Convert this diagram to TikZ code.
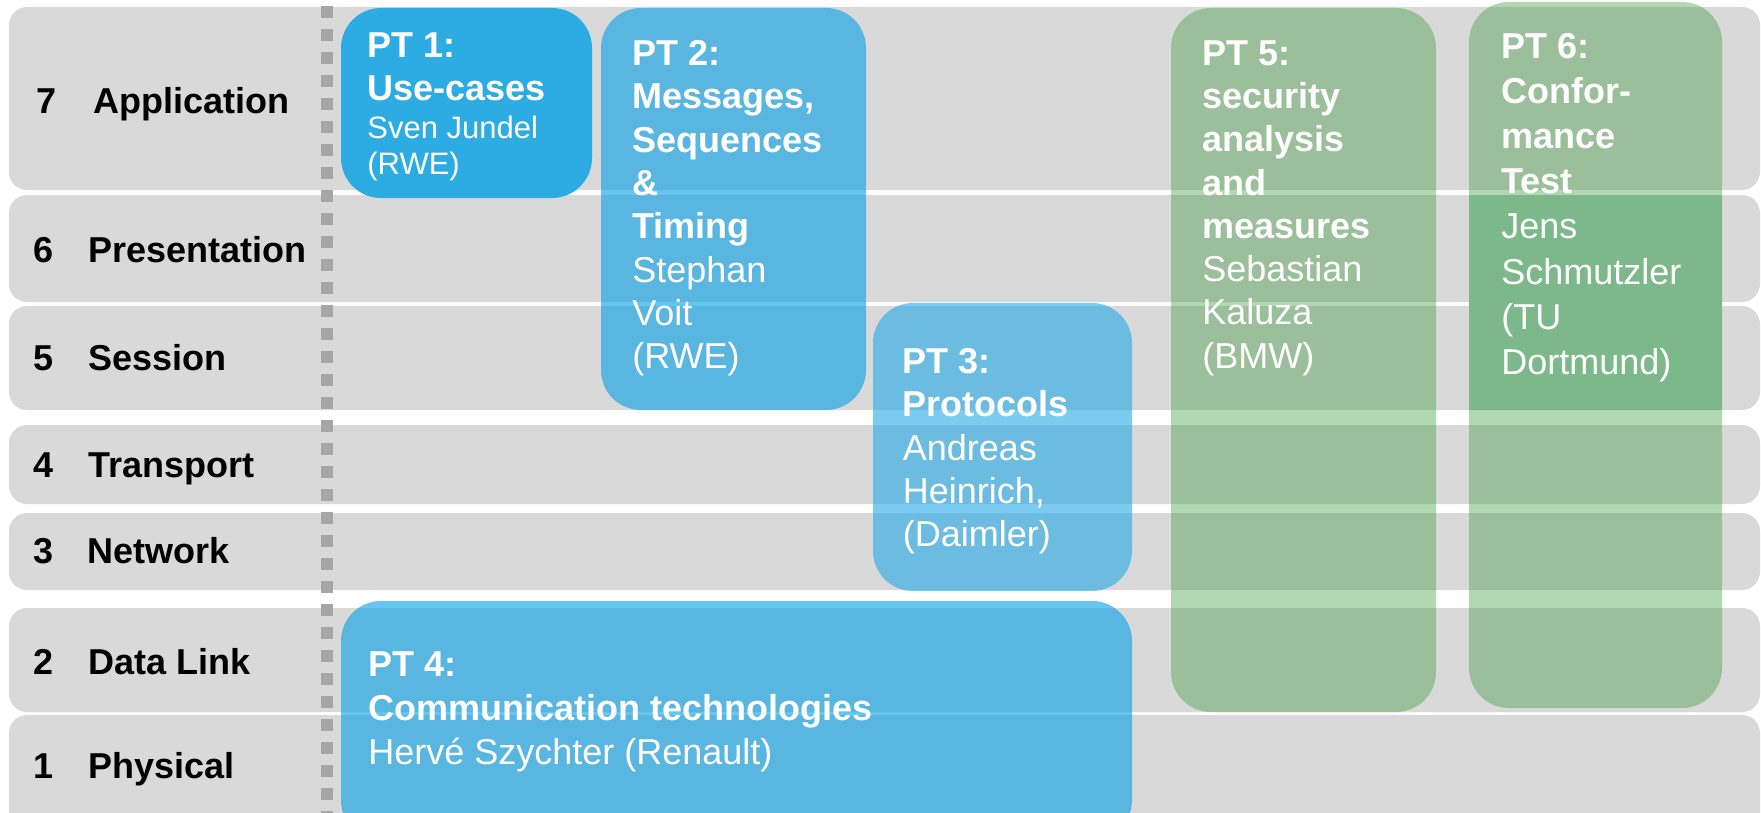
\documentclass[tikz,border=0pt]{standalone}
\usepackage{fontspec}
\setmainfont{Liberation Sans}
\definecolor{band}{HTML}{D9D9D9}
\definecolor{dots}{HTML}{A6A6A6}
\definecolor{ptone}{RGB}{44,172,226}
\definecolor{pttwo}{RGB}{2,160,229}
\definecolor{ptthree}{RGB}{35,170,230}
\definecolor{ptgreen}{RGB}{47,149,47}
\definecolor{ptdark}{HTML}{7DB88A}
\begin{document}
\begin{tikzpicture}[x=0.5pt,y=-0.5pt,
  bandbox/.style={fill=band, rounded corners=9pt},
  boxshape/.style={rounded corners=20pt},
  layernum/.style={anchor=base west, inner sep=0pt, text=black, font=\fontsize{18}{21.6}\selectfont\bfseries},
  boxtext/.style={anchor=north west, inner sep=0pt, align=left, text=white},
  bigfont/.style={font=\fontsize{18}{21.65}\selectfont},
  smallfont/.style={font=\fontsize{15.5}{18.3}\selectfont}
]
\useasboundingbox (0,0) rectangle (1761,813);
\clip (0,0) rectangle (1761,813);
% layer bands
\fill[bandbox] (9,7) rectangle (1760,190);
\fill[bandbox] (9,195) rectangle (1760,302);
\fill[bandbox] (9,306) rectangle (1760,410);
\fill[bandbox] (9,425) rectangle (1760,504);
\fill[bandbox] (9,513) rectangle (1760,590);
\fill[bandbox] (9,608) rectangle (1760,712);
\fill[bandbox] (9,715) rectangle (1760,840);
% dotted separator
\draw[dots, line width=6pt, dash pattern=on 6pt off 5.5pt] (327,6) -- (327,813);
% layer labels
\node[layernum] (n7) at (36,113) {7};
\node[layernum] (l7) at (93,113) {Application};
\node[layernum] (n6) at (33,262) {6};
\node[layernum] (l6) at (88,262) {Presentation};
\node[layernum] (n5) at (33,370) {5};
\node[layernum] (l5) at (88,370) {Session};
\node[layernum] (n4) at (33,477) {4};
\node[layernum] (l4) at (88,477) {Transport};
\node[layernum] (n3) at (33,563) {3};
\node[layernum] (l3) at (87,563) {Network};
\node[layernum] (n2) at (33,674) {2};
\node[layernum] (l2) at (88,674) {Data Link};
\node[layernum] (n1) at (33,778) {1};
\node[layernum] (l1) at (88,778) {Physical};
% PT boxes
\fill[boxshape, ptone] (341,8) rectangle (592,198);
\fill[boxshape, pttwo, fill opacity=0.6] (601,8) rectangle (866,410);
\fill[boxshape, ptthree, fill opacity=0.6] (873,303) rectangle (1132,591);
\fill[boxshape, pttwo, fill opacity=0.6] (341,601) rectangle (1132,840);
\fill[boxshape, ptgreen, fill opacity=0.37] (1171,8) rectangle (1436,712);
\fill[boxshape, ptgreen, fill opacity=0.37] (1469,2) rectangle (1722,708);
\fill[ptdark] (1469,195) rectangle (1722,410);
% texts
\node[boxtext, bigfont] (t1) at (367,32) {\textbf{PT 1:}\\\textbf{Use-cases}};
\node[boxtext, smallfont] (s1) at (367,115.5) {Sven Jundel\\(RWE)};
\node[boxtext, bigfont] (t2) at (632,40) {\textbf{PT 2:}\\\textbf{Messages,}\\\textbf{Sequences}\\\textbf{\&}\\\textbf{Timing}\\Stephan\\Voit\\(RWE)};
\node[boxtext, bigfont] (t3) at (902.5,348) {\textbf{PT 3:}\\\textbf{Protocols}\\Andreas\\Heinrich,\\(Daimler)};
\node[boxtext, font=\fontsize{18}{22}\selectfont] (t4) at (368,651) {\textbf{PT 4:}\\\textbf{Communication technologies}\\Hervé Szychter (Renault)};
\node[boxtext, bigfont] (t5) at (1202,40) {\textbf{PT 5:}\\\textbf{security}\\\textbf{analysis}\\\textbf{and}\\\textbf{measures}\\Sebastian\\Kaluza\\(BMW)};
\node[boxtext, font=\fontsize{18}{22.55}\selectfont] (t6) at (1501,33) {\textbf{PT 6:}\\\textbf{Confor-}\\\textbf{mance}\\\textbf{Test}\\Jens\\Schmutzler\\(TU\\Dortmund)};
\end{tikzpicture}
\end{document}
